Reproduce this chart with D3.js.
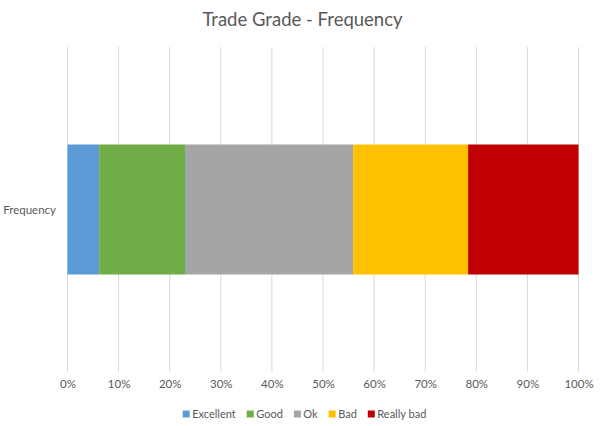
<!DOCTYPE html>
<html>
<head>
<meta charset="utf-8">
<script src="https://cdn.jsdelivr.net/npm/d3@7"></script>
<style>
  body { margin: 0; background: #fff; }
  svg text { font-family: Lato, "Open Sans", sans-serif; fill: #595959; }
</style>
</head>
<body>
<svg id="chart" width="605" height="426"></svg>
<script>
// data (percent of trades per grade)
var categories = ["Frequency"];
var grades = ["Excellent", "Good", "Ok", "Bad", "Really bad"];
var shares = [6.2, 16.8, 32.9, 22.5, 21.6];
var colors = ["#5b9bd5", "#70ad47", "#a5a5a5", "#ffc000", "#c00000"];
var tickValues = [0, 10, 20, 30, 40, 50, 60, 70, 80, 90, 100];

var svg = d3.select("#chart");
var margin = { left: 67.5, right: 26.5, top: 47, bottom: 54 };
var width = 605, height = 426;

var x = d3.scaleLinear()
  .domain([0, 100])
  .range([margin.left, width - margin.right]);

var y = d3.scaleBand()
  .domain(categories)
  .range([margin.top, height - margin.bottom])
  .paddingInner(0.6)
  .paddingOuter(0.3);

// title
svg.append("text")
  .attr("x", width / 2)
  .attr("y", 26)
  .attr("text-anchor", "middle")
  .style("font-size", "18.5px")
  .text("Trade Grade - Frequency");

// vertical gridlines
svg.append("g")
  .selectAll("line")
  .data(tickValues)
  .enter().append("line")
  .attr("x1", function (d) { return x(d); })
  .attr("x2", function (d) { return x(d); })
  .attr("y1", margin.top)
  .attr("y2", height - margin.bottom)
  .attr("stroke", "#d9d9d9")
  .attr("stroke-width", 1);

// stacked segments
var stack = [];
var acc = 0;
shares.forEach(function (v, i) {
  stack.push({ grade: grades[i], x0: acc, x1: acc + v, color: colors[i] });
  acc += v;
});

svg.append("g")
  .selectAll("rect")
  .data(stack)
  .enter().append("rect")
  .attr("x", function (d) { return x(d.x0); })
  .attr("width", function (d) { return x(d.x1) - x(d.x0); })
  .attr("y", y("Frequency"))
  .attr("height", y.bandwidth())
  .attr("fill", function (d) { return d.color; });

// x axis labels
var axis = d3.axisBottom(x)
  .tickValues(tickValues)
  .tickFormat(function (d) { return d + "%"; })
  .tickSize(0)
  .tickPadding(8);

var gx = svg.append("g")
  .attr("transform", "translate(0," + (height - margin.bottom) + ")")
  .call(axis);
gx.select(".domain").remove();
gx.selectAll("text")
  .style("font-size", "11.5px")
  .style("font-family", null)
  .attr("fill", null);

// category label
svg.append("text")
  .attr("x", 56)
  .attr("y", y("Frequency") + y.bandwidth() / 2)
  .attr("dy", "0.35em")
  .attr("text-anchor", "end")
  .style("font-size", "11.5px")
  .text(categories[0]);

// legend, centred under the chart
var legend = svg.append("g");
var lx = 0;
grades.forEach(function (g, i) {
  var item = legend.append("g").attr("transform", "translate(" + lx + ",0)");
  item.append("rect")
    .attr("x", 0).attr("y", -3.5)
    .attr("width", 7).attr("height", 7)
    .attr("fill", colors[i]);
  var t = item.append("text")
    .attr("x", 9.5)
    .attr("dy", "0.35em")
    .style("font-size", "11px")
    .text(g);
  lx += 9.5 + t.node().getComputedTextLength() + 11;
});
var legendWidth = lx - 11;
legend.attr("transform", "translate(" + (width / 2 + 2 - legendWidth / 2) + ",414)");
</script>
</body>
</html>
